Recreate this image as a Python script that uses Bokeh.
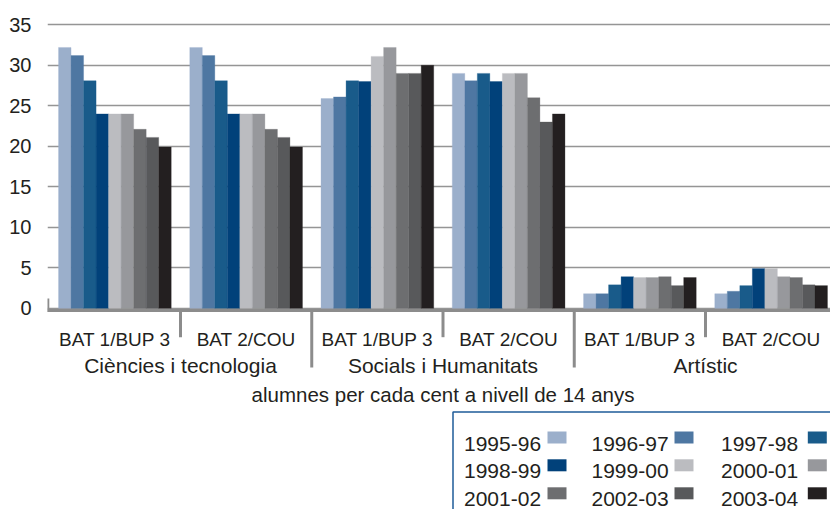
import numpy as np
from bokeh.plotting import figure
from bokeh.models import Range1d, FixedTicker
from bokeh.core.properties import value
from bokeh.embed import file_html
from bokeh.resources import INLINE

# ---------------- data ----------------
groups = ["Ciències i tecnologia", "Socials i Humanitats", "Artístic"]
levels = ["BAT 1/BUP 3", "BAT 2/COU"]
years = ["1995-96", "1996-97", "1997-98", "1998-99", "1999-00",
         "2000-01", "2001-02", "2002-03", "2003-04"]

v_1995_96 = [32.2, 32.2, 25.9, 29.0, 1.8, 1.8]
v_1996_97 = [31.2, 31.2, 26.1, 28.1, 1.8, 2.1]
v_1997_98 = [28.1, 28.1, 28.1, 29.0, 2.9, 2.8]
v_1998_99 = [24.0, 24.0, 28.0, 28.0, 3.9, 4.9]
v_1999_00 = [24.0, 24.0, 31.1, 29.0, 3.8, 4.9]
v_2000_01 = [24.0, 24.0, 32.2, 29.0, 3.8, 3.9]
v_2001_02 = [22.1, 22.1, 29.0, 26.0, 3.9, 3.8]
v_2002_03 = [21.1, 21.1, 29.0, 23.0, 2.8, 2.9]
v_2003_04 = [19.9, 19.9, 30.0, 24.0, 3.8, 2.8]
series = [v_1995_96, v_1996_97, v_1997_98, v_1998_99, v_1999_00,
          v_2000_01, v_2001_02, v_2002_03, v_2003_04]

y_ticks = [0, 5, 10, 15, 20, 25, 30, 35]
axis_title = "alumnes per cada cent a nivell de 14 anys"

# ---------------- style ----------------
colors = ["#9bafcb", "#4e77a2", "#195b8a", "#01417a", "#bbbcc0",
          "#97989c", "#6d6e70", "#58595b", "#231f20"]
FONT = "Liberation Sans"
INK = "#231f20"
GRID = "#959595"
AXIS = "#8c8c8c"

# page-pixel -> data helpers (layout only)
X0, XS = 48.75, 131.25
Y0, YS = 307.8, 8.1
def xd(px):
    return (px - X0) / XS
def yd(py):
    return (Y0 - py) / YS

p = figure(width=830, height=509,
           x_range=Range1d(xd(47), xd(830)),
           y_range=Range1d(yd(509), yd(0)),
           x_axis_location=None,
           output_backend="svg", toolbar_location=None,
           min_border_left=47, min_border_right=0,
           min_border_top=0, min_border_bottom=0)
p.outline_line_color = None
p.xgrid.visible = False
p.ygrid.ticker = FixedTicker(ticks=y_ticks)
p.ygrid.grid_line_color = GRID
p.ygrid.grid_line_width = 1.5

ax = p.yaxis[0]
ax.ticker = FixedTicker(ticks=y_ticks)
ax.axis_line_color = None
ax.major_tick_line_color = None
ax.minor_tick_line_color = None
ax.major_label_standoff = 10
ax.major_label_text_font = FONT
ax.major_label_text_font_size = "20px"
ax.major_label_text_color = INK

# ---------------- bars ----------------
ncat = len(groups) * len(levels)
centers = np.arange(ncat) + 0.5
BW = 0.0954
for k, (vals, col) in enumerate(zip(series, colors)):
    xs = centers + (k - (len(series) - 1) / 2) * BW
    p.vbar(x=xs, top=vals, bottom=0, width=BW,
           fill_color=col, line_color=col, line_width=0.3)

# baseline and small y stub
p.segment(x0=[xd(47)], y0=[yd(310)], x1=[xd(830)], y1=[yd(310)],
          line_color=AXIS, line_width=3)
p.segment(x0=[xd(47.3)], y0=[yd(298)], x1=[xd(47.3)], y1=[yd(311.5)],
          line_color=AXIS, line_width=3)

# separators
bounds = np.arange(1, ncat)
ends = [yd(367) if b % 2 == 0 else yd(336.7) for b in bounds]
p.segment(x0=bounds, y0=[yd(310)] * len(bounds), x1=bounds, y1=ends,
          line_color=AXIS, line_width=3)

# category labels
p.text(x=centers, y=[yd(339)] * ncat, text=levels * len(groups),
       text_font=value(FONT), text_font_size="19px", text_color=INK,
       text_align="center", text_baseline="alphabetic")
gcenters = np.arange(len(groups)) * 2 + 1
p.text(x=gcenters, y=[yd(365)] * len(groups), text=groups,
       text_font=value(FONT), text_font_size="21px", text_color=INK,
       text_align="center", text_baseline="alphabetic")
p.text(x=[ncat / 2], y=[yd(394.3)], text=[axis_title],
       text_font=value(FONT), text_font_size="20.5px", text_color=INK,
       text_align="center", text_baseline="alphabetic")

# ---------------- legend ----------------
p.quad(left=[xd(452.5)], right=[xd(900)], top=[yd(411.5)], bottom=[yd(600)],
       fill_color=None, line_color="#1f5c99", line_width=1.5)
col_text = [463.5, 591.0, 720.5]
col_sw = [547.0, 674.0, 807.3]
row_base = [443.0, 470.8, 498.8]
lx, ly, sl, sr, st, sb = [], [], [], [], [], []
for k in range(len(years)):
    r, c = k // 3, k % 3
    lx.append(xd(col_text[c]))
    ly.append(yd(row_base[r]))
    sl.append(xd(col_sw[c]))
    sr.append(xd(col_sw[c] + 19))
    st.append(yd(row_base[r] - 12))
    sb.append(yd(row_base[r]))
p.text(x=lx, y=ly, text=years, text_font=value(FONT), text_font_size="21px",
       text_color=INK, text_align="left", text_baseline="alphabetic")
p.quad(left=sl, right=sr, top=st, bottom=sb, fill_color=colors, line_color=None)

open("out.html", "w").write(file_html(p, INLINE))
